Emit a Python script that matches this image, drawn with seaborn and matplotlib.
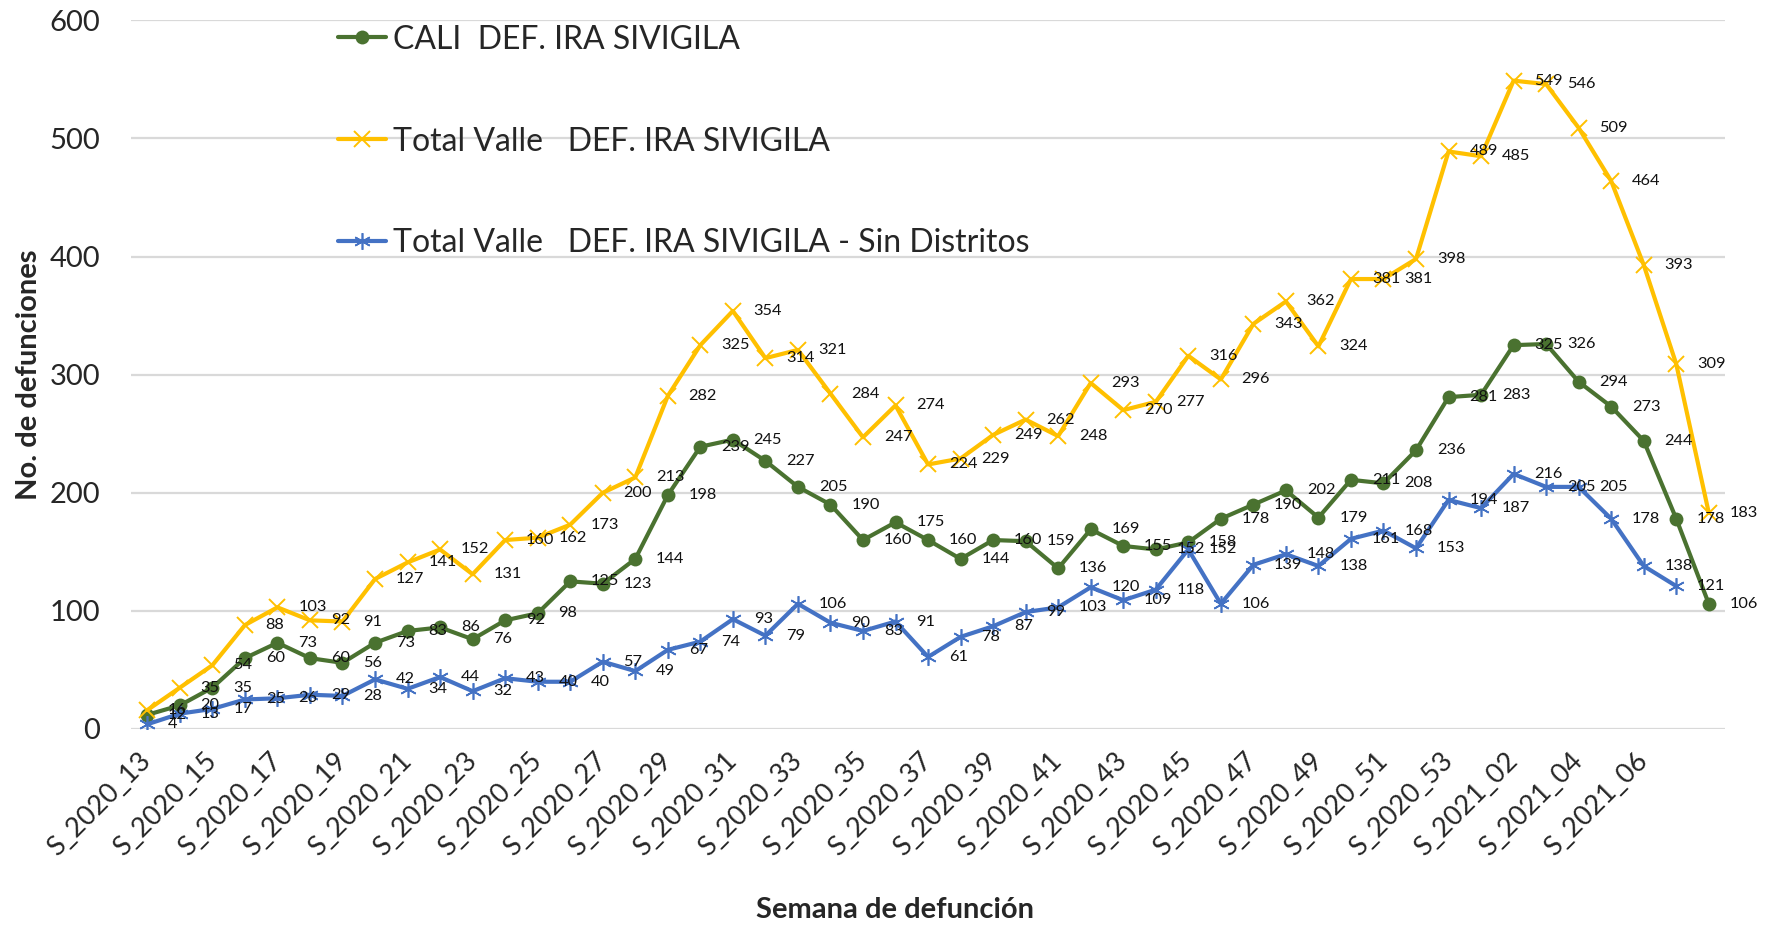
import matplotlib
matplotlib.use("Agg")
import matplotlib.pyplot as plt
import seaborn as sns
import numpy as np

weeks = ["S_2020_13", "S_2020_14", "S_2020_15", "S_2020_16", "S_2020_17", "S_2020_18",
         "S_2020_19", "S_2020_20", "S_2020_21", "S_2020_22", "S_2020_23", "S_2020_24",
         "S_2020_25", "S_2020_26", "S_2020_27", "S_2020_28", "S_2020_29", "S_2020_30",
         "S_2020_31", "S_2020_32", "S_2020_33", "S_2020_34", "S_2020_35", "S_2020_36",
         "S_2020_37", "S_2020_38", "S_2020_39", "S_2020_40", "S_2020_41", "S_2020_42",
         "S_2020_43", "S_2020_44", "S_2020_45", "S_2020_46", "S_2020_47", "S_2020_48",
         "S_2020_49", "S_2020_50", "S_2020_51", "S_2020_52", "S_2020_53", "S_2021_01",
         "S_2021_02", "S_2021_03", "S_2021_04", "S_2021_05", "S_2021_06", "S_2021_07",
         "S_2021_08"]

cali = [12, 20, 35, 60, 73, 60, 56, 73, 83, 86, 76, 92, 98, 125, 123, 144, 198, 239,
        245, 227, 205, 190, 160, 175, 160, 144, 160, 159, 136, 169, 155, 152, 158, 178,
        190, 202, 179, 211, 208, 236, 281, 283, 325, 326, 294, 273, 244, 178, 106]

valle = [16, 35, 54, 88, 103, 92, 91, 127, 141, 152, 131, 160, 162, 173, 200, 213, 282,
         325, 354, 314, 321, 284, 247, 274, 224, 229, 249, 262, 248, 293, 270, 277, 316,
         296, 343, 362, 324, 381, 381, 398, 489, 485, 549, 546, 509, 464, 393, 309, 183]

valle_sin = [4, 13, 17, 25, 26, 29, 28, 42, 34, 44, 32, 43, 40, 40, 57, 49, 67, 74, 93,
             79, 106, 90, 83, 91, 61, 78, 87, 99, 103, 120, 109, 118, 152, 106, 139, 148,
             138, 161, 168, 153, 194, 187, 216, 205, 205, 178, 138, 121]

labels = ["CALI  DEF. IRA SIVIGILA",
          "Total Valle   DEF. IRA SIVIGILA",
          "Total Valle   DEF. IRA SIVIGILA - Sin Distritos"]
y_ticks = [0, 100, 200, 300, 400, 500, 600]

sns.set_style("white")
plt.rcParams["font.family"] = ["Lato", "DejaVu Sans"]

fig = plt.figure(figsize=(17.83, 9.27), dpi=100)
ax = fig.add_axes([0.0735, 0.2136, 0.894, 0.7644])

green = "#4A7230"
yellow = "#FFC000"
blue = "#4472C4"

series = [
    (cali, green, dict(marker="o", markersize=10, markeredgewidth=0)),
    (valle, yellow, dict(marker="x", markersize=11, markeredgewidth=1.4)),
    (valle_sin, blue, dict(marker=(6, 2, 0), markersize=12, markeredgewidth=1.2)),
]

for (vals, col, mk), lab in zip(series, labels):
    xs = np.arange(len(vals))
    sns.lineplot(x=xs, y=vals, ax=ax, color=col, linewidth=3.0, label=lab,
                 markeredgecolor=col, markerfacecolor=col, **mk)
    for xi, v in zip(xs, vals):
        ax.annotate(str(v), (xi, v), xytext=(15, 0), textcoords="offset points",
                    ha="left", va="center", fontsize=11.8, color="#111111",
                    zorder=5)

ax.set_xlim(-0.5, len(weeks) - 0.5)
ax.set_ylim(0, 600)
ax.set_yticks(y_ticks)
ax.set_yticklabels([str(t) for t in y_ticks], fontsize=21)
tick_pos = list(range(0, len(weeks) - 1, 2))
ax.set_xticks(tick_pos)
ax.set_xticklabels([weeks[i] for i in tick_pos], rotation=45, ha="right",
                   va="center", rotation_mode="anchor", fontsize=19.5)
ax.tick_params(axis="y", length=0, pad=22)
ax.tick_params(axis="x", length=0, pad=20)
ax.grid(axis="y", color="#D9D9D9", linewidth=1.6)
ax.set_axisbelow(True)
for s in ax.spines.values():
    s.set_visible(False)

ax.set_ylabel("No. de defunciones", fontsize=21, fontweight="bold")
ax.yaxis.set_label_coords(-0.056, 0.5)
ax.set_xlabel("Semana de defunción", fontsize=21, fontweight="bold")
ax.xaxis.set_label_coords(0.479, -0.237)

leg = ax.legend(loc="upper left", bbox_to_anchor=(0.122, 1.012), frameon=False,
                fontsize=23, labelspacing=2.25, handlelength=1.5, handletextpad=0.2,
                borderaxespad=0)

fig.savefig("out.png", dpi=100)
